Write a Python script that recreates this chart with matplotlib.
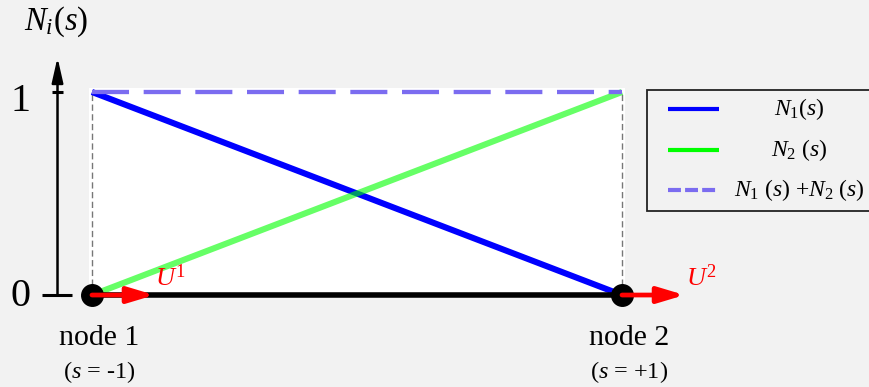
import matplotlib
matplotlib.use("Agg")
import matplotlib.pyplot as plt
from matplotlib.patches import Rectangle

plt.rcParams['font.family'] = ['Liberation Serif', 'DejaVu Serif']
plt.rcParams['mathtext.fontset'] = 'custom'
plt.rcParams['mathtext.rm'] = 'Liberation Serif'
plt.rcParams['mathtext.it'] = 'Liberation Serif:italic'

# natural coordinate of the two nodes and the shape functions there
s_nodes = [-1, 1]
N1 = [1, 0]
N2 = [0, 1]
N_sum = [N1[0] + N2[0], N1[1] + N2[1]]
node_names = ['node 1', 'node 2']
node_coords = ['($s$ = -1)', '($s$ = +1)']
dof_names = ['$U^1$', '$U^2$']
y_ticks = [0, 1]

bg = '#f2f2f2'
fig = plt.figure(figsize=(8.69, 3.87), dpi=100, facecolor=bg)
ax = fig.add_axes([0, 0, 1, 1])
ax.set_facecolor(bg)
ax.set_xlim(-1.347, 1.932)
ax.set_ylim(-0.453, 1.453)
ax.axis('off')

# white plotting field between the nodes
ax.add_patch(Rectangle((s_nodes[0] - 0.013, -0.015), s_nodes[1] - s_nodes[0] + 0.026, 1.035,
                       facecolor='white', edgecolor='none', zorder=0))
for s in s_nodes:
    ax.plot([s, s], [0, 1], color='#777777', lw=1.0, dashes=(4.5, 2.5), zorder=1)

# shape functions
ax.plot(s_nodes, N1, color='#0000ff', lw=4.4, zorder=3, solid_capstyle='butt')
ax.plot(s_nodes, N2, color='#00ff00', alpha=0.6, lw=4.4, zorder=4, solid_capstyle='butt')
ax.plot(s_nodes, N_sum, color='#7b6cf0', lw=3.1, dashes=(8.6, 3.4), zorder=4)

# element bar and nodes
ax.plot(s_nodes, [0, 0], color='black', lw=4.0, zorder=5, solid_capstyle='butt')
ax.plot(s_nodes, [0, 0], 'o', color='black', ms=15.5, zorder=6)

# nodal dof arrows
for s, name in zip(s_nodes, dof_names):
    ax.annotate('', xy=(s + 0.236, 0), xytext=(s, 0),
                arrowprops=dict(arrowstyle='-|>,head_length=0.8,head_width=0.24',
                                color='red', lw=3.4, mutation_scale=20,
                                shrinkA=0, shrinkB=0), zorder=7)
    ax.text(s + 0.298, 0.085, name, color='red', fontsize=19,
            ha='center', va='center', zorder=8)

for s, name, coord in zip(s_nodes, node_names, node_coords):
    ax.text(s + 0.026, -0.212, name, fontsize=21.5, ha='center', va='center')
    ax.text(s + 0.028, -0.38, coord, fontsize=17.5, ha='center', va='center')

# vertical N axis
x_axis = -1.13
ax.annotate('', xy=(x_axis, 1.17), xytext=(x_axis, 0),
            arrowprops=dict(arrowstyle='-|>,head_length=0.75,head_width=0.17',
                            color='black', lw=1.8, mutation_scale=20,
                            shrinkA=0, shrinkB=0))
ax.plot([-1.189, -1.075], [0, 0], color='black', lw=2.2, solid_capstyle='butt')
ax.plot([-1.151, -1.109], [1, 1], color='black', lw=2.2, solid_capstyle='butt')
for t in y_ticks:
    ax.text(-1.27, t - 0.04 * (t == 1) - 0.005, str(t), fontsize=29,
            ha='center', va='center')
ax.text(-1.136, 1.345, '$N_i(s)$', fontsize=23.5, ha='center', va='center')

# legend box
ax.add_patch(Rectangle((1.095, 0.414), 1.0, 0.596, facecolor=bg,
                       edgecolor='#222222', lw=1.3, zorder=9, clip_on=False))
legend_rows = [0.916, 0.714, 0.517]
legend_labels = ['$N_1(s)$', '$N_2\\ (s)$', '$N_1\\ (s)\\ {+}N_2\\ (s)$']
ax.plot([1.174, 1.366], [legend_rows[0]] * 2, color='#0000ff', lw=3.0, zorder=10,
        solid_capstyle='butt')
ax.plot([1.174, 1.366], [legend_rows[1]] * 2, color='#00ff00', lw=3.0, zorder=10,
        solid_capstyle='butt')
ax.plot([1.174, 1.366], [legend_rows[2]] * 2, color='#7b6cf0', lw=3.0, zorder=10,
        dashes=(3.1, 1.0), solid_capstyle='butt')
for y, lab in zip(legend_rows, legend_labels):
    ax.text(1.668, y, lab, fontsize=17, ha='center', va='center', zorder=10)

fig.savefig('out.png', dpi=100, facecolor=bg)
